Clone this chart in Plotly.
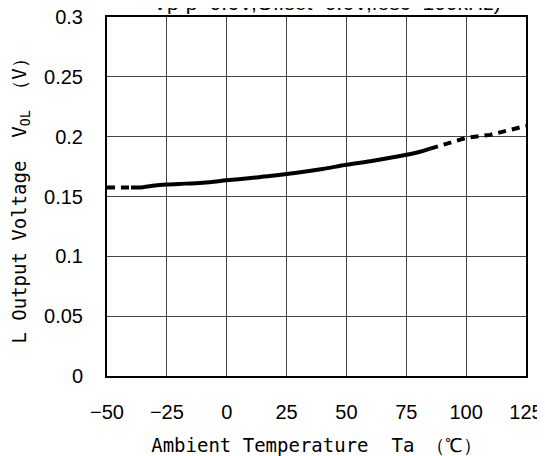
import plotly.graph_objects as go

# Solid (guaranteed) region
temp_solid = [-40, -35, -30, -25, -20, -10, 0, 10, 20, 30, 40, 50, 60, 70, 80, 85]
vol_solid = [0.1575, 0.1578, 0.1592, 0.1600, 0.1605, 0.1615, 0.1635, 0.1655, 0.1675,
             0.1700, 0.1730, 0.1765, 0.1795, 0.1830, 0.1870, 0.1900]
# Dashed (extrapolated) regions
temp_dash_low = [-50, -40]
vol_dash_low = [0.1575, 0.1575]
temp_dash_high = [85, 100, 110, 125]
vol_dash_high = [0.1900, 0.1990, 0.2015, 0.2090]

x_ticks = [-50, -25, 0, 25, 50, 75, 100, 125]
y_ticks = [0, 0.05, 0.1, 0.15, 0.2, 0.25, 0.3]
y_tick_text = ["0", "0.05", "0.1", "0.15", "0.2", "0.25", "0.3"]

fig = go.Figure()
dash_style = dict(color="black", width=4, dash="8px,6px")
fig.add_trace(go.Scatter(x=temp_dash_low, y=vol_dash_low, mode="lines", line=dash_style))
fig.add_trace(go.Scatter(x=temp_dash_high, y=vol_dash_high, mode="lines", line=dash_style))
fig.add_trace(go.Scatter(x=temp_solid, y=vol_solid, mode="lines",
                         line=dict(color="black", width=4), line_shape="spline"))

tick_font = dict(family="Liberation Sans", size=20, color="black")
title_font = dict(family="DejaVu Sans Mono", size=19, color="black")

fig.update_layout(
    width=545, height=456,
    margin=dict(l=99, r=27, t=9, b=88, autoexpand=False),
    paper_bgcolor="white", plot_bgcolor="white",
    showlegend=False,
    xaxis=dict(range=[-50, 125], tickvals=x_ticks, ticks="", tickfont=tick_font,
               showgrid=True, gridcolor="#444", gridwidth=1, zeroline=False,
               showline=True, linecolor="black", linewidth=2, mirror=True,
               ticklabelstandoff=17, automargin=False, ticklabeloverflow="allow",
               title=dict(text="Ambient Temperature  Ta （℃）", font=title_font, standoff=17)),
    yaxis=dict(range=[0, 0.3], tickvals=y_ticks, ticktext=y_tick_text, ticks="",
               tickfont=tick_font,
               showgrid=True, gridcolor="#444", gridwidth=1, zeroline=False,
               showline=True, linecolor="black", linewidth=2, mirror=True,
               ticklabelstandoff=18, automargin=False, ticklabeloverflow="allow",
               title=dict(text="L Output Voltage  V<sub>OL</sub> （V）", font=title_font, standoff=19)),
    annotations=[dict(text="Vp-p=0.6V,Offset=0.6V,fosc=100kHz)", xref="paper", yref="paper",
                      x=0.524, y=1.0, yshift=1, xanchor="center", yanchor="bottom",
                      showarrow=False, font=dict(family="Liberation Sans", size=21, color="black"))],
)

fig.write_html("out.html")
